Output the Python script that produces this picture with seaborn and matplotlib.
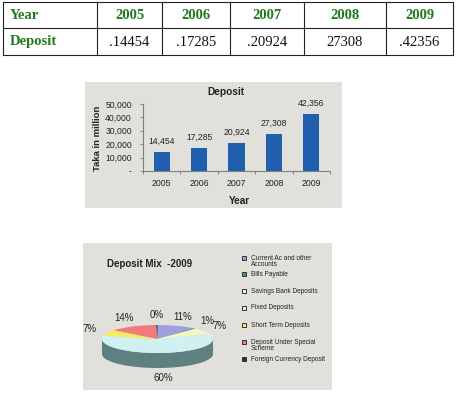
import matplotlib
matplotlib.use("Agg")
import matplotlib.pyplot as plt
import seaborn as sns
import numpy as np
import pandas as pd
from matplotlib.patches import Rectangle, Polygon
from matplotlib.ticker import FixedLocator, FuncFormatter

# ---------------- data ----------------
years = ["2005", "2006", "2007", "2008", "2009"]
table_values = [".14454", ".17285", ".20924", "27308", ".42356"]
deposit_million = [14454, 17285, 20924, 27308, 42356]

mix_labels = ["Current Ac and other\nAccounts", "Bills Payable", "Savings Bank Deposits",
              "Fixed Deposits", "Short Term Deposits", "Deposit Under Special\nScheme",
              "Foreign Currency Deposit"]
mix_share = [11, 1, 7, 60, 7, 14, 0.4]
mix_colors = ["#A09EE0", "#4E9E6C", "#F5F5C8", "#D0F0F2", "#F2EE5C", "#F07A7C", "#1E2F5A"]

# ---------------- layout ----------------
W, H = 458, 393
fig = plt.figure(figsize=(W / 100, H / 100), dpi=100)
fig.patch.set_facecolor("white")
plt.rcParams["font.family"] = ["Liberation Sans", "DejaVu Sans"]


def box(x0, y0, x1, y1):
    return [x0 / W, 1 - y1 / H, (x1 - x0) / W, (y1 - y0) / H]


bg = fig.add_axes([0, 0, 1, 1], zorder=0)
bg.set_xlim(0, W)
bg.set_ylim(H, 0)
bg.axis("off")

# ---------------- table ----------------
green = "#1F7A1F"
col_edges = [3, 97, 162, 230, 304, 386, 453]
row_edges = [2, 28, 55]
for y in row_edges:
    bg.plot([col_edges[0], col_edges[-1]], [y, y], color="#222222", lw=0.8)
for x in col_edges:
    bg.plot([x, x], [row_edges[0], row_edges[-1]], color="#222222", lw=0.8)
serif = ["Liberation Serif", "DejaVu Serif"]
r1 = (row_edges[0] + row_edges[1]) / 2
r2 = (row_edges[1] + row_edges[2]) / 2
bg.text(10, r1 + 0.5, "Year", family=serif, fontsize=10.5, fontweight="bold", color=green,
        ha="left", va="center")
bg.text(10, r2 + 0.5, "Deposit", family=serif, fontsize=10.5, fontweight="bold", color=green,
        ha="left", va="center")
for i, (yr, val) in enumerate(zip(years, table_values)):
    cx = (col_edges[i + 1] + col_edges[i + 2]) / 2
    bg.text(cx, r1 + 0.5, yr, family=serif, fontsize=10.5, fontweight="bold", color=green,
            ha="center", va="center")
    bg.text(cx, r2 + 0.5, val, family=serif, fontsize=10.5, color="#111111",
            ha="center", va="center")

# ---------------- panels ----------------
panel_col = "#E2E0DB"
bg.add_patch(Rectangle((85, 82), 257, 126, facecolor=panel_col, edgecolor="none"))
bg.add_patch(Rectangle((83, 243), 249, 147, facecolor=panel_col, edgecolor="none"))

# ---------------- bar chart ----------------
ax = fig.add_axes(box(143, 104, 330, 171), zorder=2)
ax.patch.set_alpha(0)
df = pd.DataFrame({"Year": years, "Deposit": deposit_million})
sns.barplot(data=df, x="Year", y="Deposit", color="#1F5FAE", saturation=1, width=0.43,
            linewidth=0, ax=ax)
ax.set_ylim(0, 50000)
ax.set_xlim(-0.5, len(years) - 0.5)
ax.yaxis.set_major_locator(FixedLocator([0, 10000, 20000, 30000, 40000, 50000]))
ax.yaxis.set_major_formatter(FuncFormatter(lambda v, p: "-" if v == 0 else f"{int(v):,}"))
ax.xaxis.set_minor_locator(FixedLocator(np.arange(-0.5, len(years), 1.0)))
ax.tick_params(axis="x", which="major", length=0, pad=6, labelsize=6.3, colors="#222222")
ax.tick_params(axis="x", which="minor", length=2, color="#808080", width=0.7)
ax.tick_params(axis="y", length=2, width=0.7, color="#808080", labelsize=6.2,
               labelcolor="#222222", pad=6)
for s in ["top", "right"]:
    ax.spines[s].set_visible(False)
for s in ["left", "bottom"]:
    ax.spines[s].set_color("#808080")
    ax.spines[s].set_linewidth(0.8)
ax.bar_label(ax.containers[0], labels=[f"{v:,}" for v in deposit_million], padding=4.5,
             fontsize=6.2, color="#222222")
ax.set_xlabel("Year", fontsize=7.2, fontweight="bold", color="#222222")
ax.xaxis.set_label_coords((239 - 143) / 187, (171 - 196) / 67)
ax.set_ylabel("Taka in million", fontsize=6.8, fontweight="bold", color="#222222")
ax.yaxis.set_label_coords((102 - 143) / 187, 0.49)
ax.set_title("Deposit", fontsize=7.3, fontweight="bold", color="#222222",
             x=(226 - 143) / 187, pad=6.5)

# ---------------- pie chart (pseudo 3D) ----------------
pax = fig.add_axes(box(102, 325, 213, 353), zorder=2)
depth = 15 / 14.0
wedges, _ = pax.pie(mix_share, colors=mix_colors, startangle=90, counterclock=False,
                    wedgeprops=dict(linewidth=0))
pax.set_aspect("auto")
pax.set_xlim(-1, 1)
pax.set_ylim(-1, 1)
for w in wedges:
    w.set_zorder(3)
t = np.linspace(np.pi, 2 * np.pi, 120)
side = np.concatenate([np.c_[np.cos(t), np.sin(t)], np.c_[np.cos(t[::-1]), np.sin(t[::-1]) - depth]])
pax.add_patch(Polygon(side, closed=True, facecolor="#5E8080", edgecolor="none", zorder=2,
                      clip_on=False))
total = sum(mix_share)
cum = 0.0
for v in mix_share:
    mid = np.deg2rad(90 - 360 * (cum + v / 2) / total)
    cum += v
    x = 1.36 * np.cos(mid)
    y = 1.7 * np.sin(mid) if np.sin(mid) >= 0 else 1.7 * np.sin(mid) - depth
    pax.text(x, y, f"{v / total * 100:.0f}%", ha="center", va="center", fontsize=7,
             color="#222222", clip_on=False, zorder=5)

bg.text(107, 264, "Deposit Mix  -2009", fontsize=7, fontweight="bold", color="#222222",
        ha="left", va="center")

# legend
legend_y = [258, 274.3, 291, 307.7, 325, 342.3, 359.3]
for lab, col, y in zip(mix_labels, mix_colors, legend_y):
    bg.add_patch(Rectangle((241.5, y - 2), 4, 4, facecolor=col, edgecolor="#333333", lw=0.7,
                           zorder=3))
    bg.text(251, y - 3.4, lab, fontsize=4.7, color="#222222", ha="left", va="top",
            linespacing=0.85, zorder=3)

fig.savefig("out.png", dpi=100)
